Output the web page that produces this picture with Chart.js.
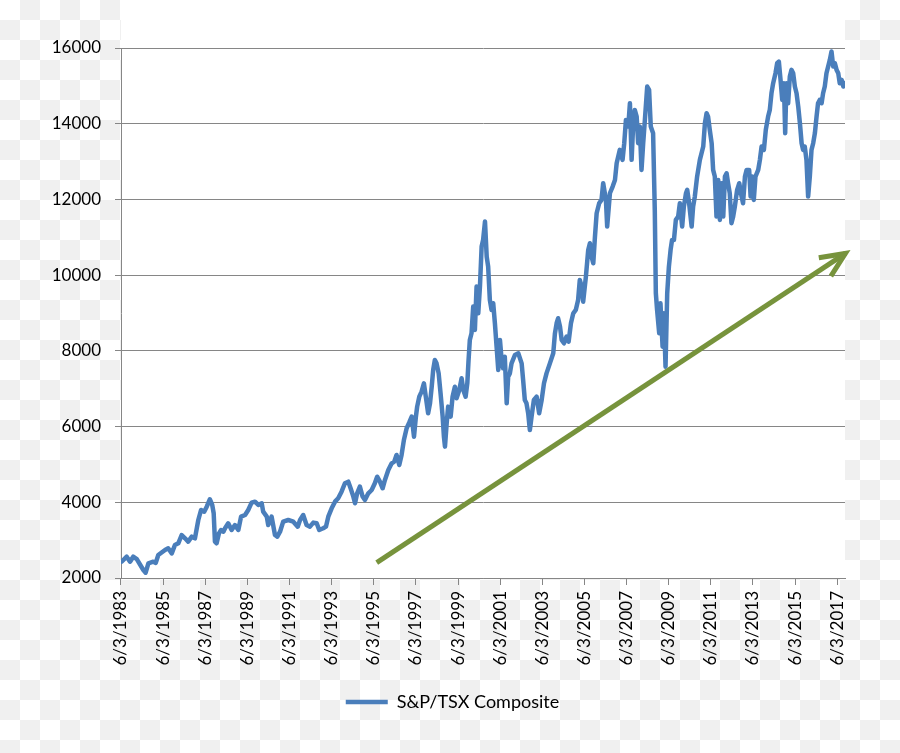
<!DOCTYPE html>
<html>
<head>
<meta charset="utf-8">
<script src="https://cdn.jsdelivr.net/npm/chart.js@4.4.0/dist/chart.umd.min.js"></script>
<style>
  html, body { margin: 0; padding: 0; }
  body {
    width: 900px;
    height: 753px;
    overflow: hidden;
    background-color: #fff;
    background-image: conic-gradient(#f0f0f0 0 25%, #fff 0 50%, #f0f0f0 0 75%, #fff 0);
    background-size: 40px 40px;
  }
  #wrap { position: relative; width: 900px; height: 753px; }
</style>
</head>
<body>
<div id="wrap"><canvas id="chart" width="900" height="753"></canvas></div>
<script>
// S&P/TSX Composite (decimal year, index level)
const years = [
  1983.45, 1983.69, 1983.85, 1984.00, 1984.17, 1984.48, 1984.59, 1984.72, 1984.95, 1985.07,
  1985.19, 1985.51, 1985.66, 1985.83, 1985.98, 1986.14, 1986.30, 1986.46, 1986.61, 1986.78,
  1986.93, 1987.09, 1987.22, 1987.37, 1987.49, 1987.64, 1987.75, 1987.82, 1987.88, 1987.96,
  1988.07, 1988.17, 1988.28, 1988.36, 1988.51, 1988.67, 1988.83, 1988.99, 1989.12, 1989.31,
  1989.46, 1989.62, 1989.78, 1989.94, 1990.10, 1990.17, 1990.34, 1990.41, 1990.57, 1990.73,
  1990.84, 1990.97, 1991.12, 1991.36, 1991.60, 1991.81, 1991.92, 1992.07, 1992.23, 1992.39,
  1992.55, 1992.71, 1992.83, 1993.02, 1993.15, 1993.26, 1993.42, 1993.58, 1993.73, 1993.89,
  1994.05, 1994.21, 1994.32, 1994.45, 1994.53, 1994.63, 1994.76, 1994.89, 1995.00, 1995.16,
  1995.32, 1995.47, 1995.58, 1995.71, 1995.84, 1995.95, 1996.11, 1996.27, 1996.39, 1996.50,
  1996.63, 1996.74, 1996.85, 1996.98, 1997.10, 1997.22, 1997.33, 1997.42, 1997.48, 1997.58,
  1997.69, 1997.80, 1997.90, 1998.00, 1998.09, 1998.17, 1998.24, 1998.32, 1998.40, 1998.50,
  1998.59, 1998.69, 1998.75, 1998.80, 1998.88, 1998.95, 1999.07, 1999.16, 1999.27, 1999.35,
  1999.48, 1999.59, 1999.67, 1999.78, 1999.86, 1999.92, 1999.98, 2000.06, 2000.14, 2000.22,
  2000.30, 2000.38, 2000.46, 2000.54, 2000.61, 2000.70, 2000.78, 2000.85, 2000.93, 2001.01,
  2001.09, 2001.17, 2001.25, 2001.33, 2001.41, 2001.49, 2001.56, 2001.64, 2001.73, 2001.80,
  2001.88, 2001.96, 2002.12, 2002.28, 2002.44, 2002.51, 2002.59, 2002.67, 2002.75, 2002.83,
  2002.91, 2003.02, 2003.15, 2003.27, 2003.39, 2003.50, 2003.62, 2003.78, 2003.94, 2004.02,
  2004.10, 2004.17, 2004.26, 2004.34, 2004.45, 2004.57, 2004.67, 2004.78, 2004.89, 2005.01,
  2005.12, 2005.20, 2005.29, 2005.36, 2005.49, 2005.60, 2005.68, 2005.76, 2005.84, 2005.92,
  2006.00, 2006.12, 2006.23, 2006.31, 2006.44, 2006.50, 2006.63, 2006.76, 2006.87, 2006.95,
  2007.10, 2007.23, 2007.31, 2007.39, 2007.50, 2007.58, 2007.66, 2007.73, 2007.81, 2007.90,
  2007.97, 2008.05, 2008.13, 2008.21, 2008.29, 2008.40, 2008.49, 2008.57, 2008.68, 2008.76,
  2008.81, 2008.87, 2008.97, 2009.03, 2009.13, 2009.19, 2009.27, 2009.35, 2009.43, 2009.51,
  2009.58, 2009.67, 2009.76, 2009.87, 2009.95, 2010.06, 2010.14, 2010.24, 2010.30, 2010.39,
  2010.51, 2010.58, 2010.66, 2010.77, 2010.90, 2011.06, 2011.14, 2011.22, 2011.29, 2011.37,
  2011.46, 2011.53, 2011.61, 2011.69, 2011.77, 2011.85, 2011.93, 2012.01, 2012.09, 2012.17,
  2012.24, 2012.32, 2012.40, 2012.48, 2012.56, 2012.67, 2012.77, 2012.88, 2012.95, 2013.04,
  2013.12, 2013.24, 2013.31, 2013.38, 2013.46, 2013.54, 2013.67, 2013.75, 2013.83, 2013.94,
  2014.03, 2014.14, 2014.22, 2014.30, 2014.38, 2014.49, 2014.57, 2014.65, 2014.73, 2014.81,
  2014.89, 2014.95, 2015.01, 2015.09, 2015.17, 2015.25, 2015.33, 2015.41, 2015.49, 2015.57,
  2015.65, 2015.73, 2015.80, 2015.88, 2015.96, 2016.04, 2016.12, 2016.20, 2016.28, 2016.36,
  2016.44, 2016.51, 2016.59, 2016.68, 2016.75, 2016.83, 2016.91, 2016.99, 2017.07, 2017.15,
  2017.23, 2017.31, 2017.39, 2017.47, 2017.54, 2017.63, 2017.71, 2017.79
];
const values = [
  2430, 2563, 2430, 2563, 2500, 2211, 2140, 2388, 2430, 2400,
  2608, 2740, 2785, 2650, 2872, 2917, 3136, 3048, 2960, 3092,
  3048, 3532, 3797, 3752, 3885, 4080, 3930, 3710, 2960, 2917,
  3180, 3268, 3223, 3313, 3445, 3268, 3400, 3268, 3620, 3664,
  3797, 3990, 4017, 3930, 3973, 3752, 3620, 3400, 3620, 3136,
  3092, 3223, 3488, 3532, 3488, 3356, 3532, 3664, 3400, 3356,
  3463, 3445, 3268, 3313, 3356, 3620, 3841, 4017, 4106, 4280,
  4502, 4545, 4370, 4150, 3973, 4237, 4413, 4150, 4060, 4237,
  4325, 4502, 4676, 4545, 4370, 4590, 4853, 5030, 5074, 5250,
  4985, 5250, 5646, 5955, 6104, 6263, 5734, 6263, 6527, 6790,
  6923, 7143, 6748, 6351, 6615, 7054, 7495, 7759, 7670, 7406,
  6879, 6263, 5734, 5470, 6087, 6527, 6263, 6790, 7054, 6748,
  6967, 7275, 6967, 6790, 7143, 7759, 8288, 8464, 9169, 8552,
  9698, 8993, 9698, 10755, 10930, 11415, 10490, 10225, 9345, 9080,
  9257, 8729, 8110, 7495, 8288, 7759, 7538, 7847, 6615, 7320,
  7406, 7670, 7891, 7935, 7670, 7231, 6703, 6615, 6351, 5910,
  6263, 6703, 6790, 6351, 6703, 7143, 7406, 7670, 7935, 8464,
  8729, 8861, 8641, 8288, 8200, 8376, 8244, 8729, 8993, 9080,
  9345, 9874, 9698, 9300, 9963, 10666, 10843, 10490, 10313, 11018,
  11635, 11899, 11988, 12428, 11988, 11283, 12163, 12340, 12516, 12957,
  13309, 13045, 13485, 14101, 13925, 14541, 13045, 13925, 14365, 14189,
  13485, 13925, 12780, 13485, 14101, 14982, 14893, 13925, 13749, 11723,
  9522, 9080, 8464, 9257, 8110, 8993, 7582, 9522, 10225, 10666,
  10930, 10930, 11459, 11547, 11899, 11283, 11811, 12163, 12252, 11899,
  11283, 11811, 12075, 12604, 13045, 13397, 14013, 14277, 14189, 13837,
  13485, 12780, 12604, 11547, 12516, 11459, 12428, 11547, 12604, 12692,
  12428, 12163, 11371, 11547, 11811, 12252, 12428, 12075, 11899, 12604,
  12780, 12780, 12075, 12604, 11988, 12604, 12780, 13045, 13397, 13309,
  13837, 14189, 14365, 14805, 15070, 15334, 15598, 15642, 15158, 14629,
  15070, 13749, 15070, 14541, 15246, 15422, 15334, 14982, 14805, 14453,
  14013, 13485, 13309, 13397, 13045, 12075, 12604, 13309, 13485, 13749,
  14189, 14541, 14629, 14541, 14805, 14982, 15334, 15510, 15686, 15906,
  15510, 15598, 15422, 15334, 15070, 15158, 14982, 15070
];
const seriesLabel = "S&P/TSX Composite";
const xTickLabels = [
  "6/3/1983", "6/3/1985", "6/3/1987", "6/3/1989", "6/3/1991", "6/3/1993",
  "6/3/1995", "6/3/1997", "6/3/1999", "6/3/2001", "6/3/2003", "6/3/2005",
  "6/3/2007", "6/3/2009", "6/3/2011", "6/3/2013", "6/3/2015", "6/3/2017"
];
const yTicks = [2000, 4000, 6000, 8000, 10000, 12000, 14000, 16000];
// hand-drawn trend arrow, in data units: [year, level]
const trendFrom = [1995.56, 2404];
const trendTo = [2017.81, 10573];

const xMin = 1983.42;
const xMax = 2017.79;
const FONT = { family: "Lato, 'Open Sans', sans-serif", size: 17 };
const GRID = "#868686";

function labelToYear(label) {
  const [m, d, y] = label.split("/").map(Number);
  const start = Date.UTC(y, 0, 1);
  const day = (Date.UTC(y, m - 1, d) - start) / 86400000;
  return y + day / 365;
}
const xTickValues = xTickLabels.map(labelToYear);

const plotBackground = {
  id: "plotBackground",
  beforeDraw(chart) {
    const { ctx, chartArea } = chart;
    ctx.save();
    ctx.fillStyle = "#ffffff";
    ctx.fillRect(chartArea.left, 0, chartArea.right - chartArea.left, chartArea.bottom);
    ctx.restore();
  },
};

// legend sits a little right of the canvas centre in the original
const legendNudge = {
  id: "legendNudge",
  afterLayout(chart) {
    if (chart.legend) {
      chart.legend.left += 30;
      chart.legend.right += 30;
    }
  },
};

const trendArrow = {
  id: "trendArrow",
  afterDatasetsDraw(chart) {
    const { ctx } = chart;
    const xs = chart.scales.x;
    const ys = chart.scales.y;
    const x0 = xs.getPixelForValue(trendFrom[0]);
    const y0 = ys.getPixelForValue(trendFrom[1]);
    const x1 = xs.getPixelForValue(trendTo[0]);
    const y1 = ys.getPixelForValue(trendTo[1]);
    const ang = Math.atan2(y0 - y1, x0 - x1);
    const head = 27;
    const spread = 0.42;
    ctx.save();
    ctx.strokeStyle = "#77933c";
    ctx.lineWidth = 5;
    ctx.lineCap = "butt";
    ctx.lineJoin = "miter";
    ctx.beginPath();
    ctx.moveTo(x0, y0);
    ctx.lineTo(x1, y1);
    ctx.stroke();
    ctx.beginPath();
    ctx.moveTo(x1 + head * Math.cos(ang + spread), y1 + head * Math.sin(ang + spread));
    ctx.lineTo(x1, y1);
    ctx.lineTo(x1 + head * Math.cos(ang - spread), y1 + head * Math.sin(ang - spread));
    ctx.stroke();
    ctx.restore();
  },
};

new Chart(document.getElementById("chart"), {
  type: "line",
  data: {
    datasets: [
      {
        label: seriesLabel,
        data: years.map((x, i) => ({ x, y: values[i] })),
        borderColor: "#4a7ebb",
        backgroundColor: "#4a7ebb",
        borderWidth: 4.5,
        borderJoinStyle: "round",
        borderCapStyle: "round",
        pointRadius: 0,
        tension: 0,
      },
    ],
  },
  options: {
    responsive: false,
    animation: false,
    devicePixelRatio: 1,
    layout: { padding: { left: 0, right: 55, top: 48, bottom: 32 } },
    scales: {
      x: {
        type: "linear",
        min: xMin,
        max: xMax,
        afterBuildTicks: (scale) => {
          scale.ticks = xTickValues.map((value) => ({ value }));
        },
        afterFit: (scale) => {
          scale.height = 105;
        },
        ticks: {
          autoSkip: false,
          minRotation: 90,
          maxRotation: 90,
          padding: 6,
          color: "#000",
          font: FONT,
          callback: (value, index) => xTickLabels[index],
        },
        grid: { drawOnChartArea: false, drawTicks: true, tickLength: 7, color: GRID },
        border: { color: GRID },
      },
      y: {
        min: yTicks[0],
        max: yTicks[yTicks.length - 1],
        afterBuildTicks: (scale) => {
          scale.ticks = yTicks.map((value) => ({ value }));
        },
        afterFit: (scale) => {
          scale.width = 121;
        },
        ticks: { padding: 14, color: "#000", font: FONT, callback: (v) => String(v) },
        grid: { color: GRID, tickLength: 6 },
        border: { color: GRID },
      },
    },
    plugins: {
      legend: {
        position: "bottom",
        labels: {
          usePointStyle: true,
          pointStyle: "line",
          pointStyleWidth: 42,
          padding: 10,
          color: "#000",
          font: { family: FONT.family, size: 18 },
        },
      },
      tooltip: { enabled: false },
    },
  },
  plugins: [plotBackground, legendNudge, trendArrow],
});
</script>
</body>
</html>
